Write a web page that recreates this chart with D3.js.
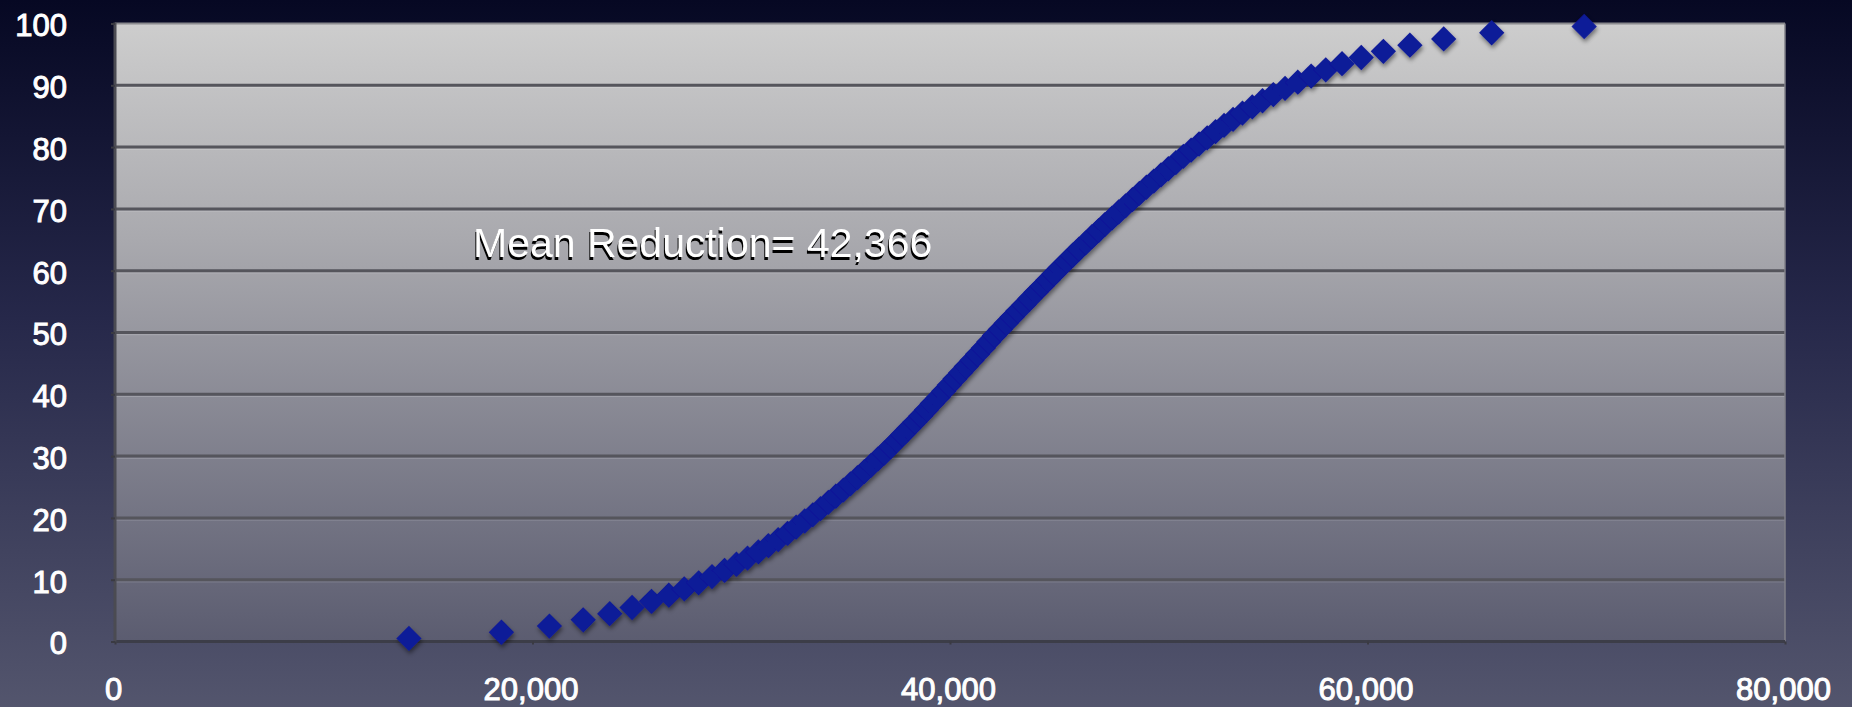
<!DOCTYPE html>
<html>
<head>
<meta charset="utf-8">
<script src="https://cdn.jsdelivr.net/npm/d3@7/dist/d3.min.js"></script>
<style>
  html, body { margin: 0; padding: 0; background: #1c1e38; }
  svg { display: block; }
  .tick-label { font-family: "Liberation Sans", Arial, Helvetica, sans-serif; fill: #ffffff; stroke: #ffffff; stroke-width: 1px; }
</style>
</head>
<body>
<svg id="chart" width="1852" height="707"></svg>
<script>
// Reduction values (x) for each cumulative percentile point (y)
const reductions = [
  14080, 18510, 20810, 22430, 23700, 24770, 25700, 26530, 27270, 27960,
  28600, 29200, 29770, 30300, 30820, 31300, 31770, 32220, 32630, 33040,
  33430, 33800, 34170, 34530, 34890, 35230, 35570, 35900, 36220, 36540,
  36860, 37160, 37450, 37740, 38030, 38320, 38600, 38880, 39150, 39430,
  39700, 39970, 40240, 40510, 40780, 41060, 41320, 41600, 41860, 42130,
  42410, 42690, 42980, 43260, 43550, 43830, 44120, 44410, 44700, 44990,
  45280, 45580, 45880, 46180, 46500, 46800, 47120, 47430, 47760, 48080,
  48410, 48740, 49070, 49410, 49760, 50110, 50460, 50820, 51180, 51550,
  51930, 52320, 52720, 53130, 53560, 54010, 54480, 54970, 55490, 56050,
  56660, 57300, 58000, 58780, 59700, 60760, 62030, 63650, 65950, 70380
];
const percentiles = [
  0.5, 1.5, 2.5, 3.5, 4.5, 5.5, 6.5, 7.5, 8.5, 9.5,
  10.5, 11.5, 12.5, 13.5, 14.5, 15.5, 16.5, 17.5, 18.5, 19.5,
  20.5, 21.5, 22.5, 23.5, 24.5, 25.5, 26.5, 27.5, 28.5, 29.5,
  30.5, 31.5, 32.5, 33.5, 34.5, 35.5, 36.5, 37.5, 38.5, 39.5,
  40.5, 41.5, 42.5, 43.5, 44.5, 45.5, 46.5, 47.5, 48.5, 49.5,
  50.5, 51.5, 52.5, 53.5, 54.5, 55.5, 56.5, 57.5, 58.5, 59.5,
  60.5, 61.5, 62.5, 63.5, 64.5, 65.5, 66.5, 67.5, 68.5, 69.5,
  70.5, 71.5, 72.5, 73.5, 74.5, 75.5, 76.5, 77.5, 78.5, 79.5,
  80.5, 81.5, 82.5, 83.5, 84.5, 85.5, 86.5, 87.5, 88.5, 89.5,
  90.5, 91.5, 92.5, 93.5, 94.5, 95.5, 96.5, 97.5, 98.5, 99.5
];
const xTicks = [0, 20000, 40000, 60000, 80000];
const yTicks = [0, 10, 20, 30, 40, 50, 60, 70, 80, 90, 100];
const meanLabel = "Mean Reduction= 42,366";

const W = 1852, H = 707;
const plot = { left: 115, right: 1785, top: 23.5, bottom: 641.5 };

const svg = d3.select("#chart");
const defs = svg.append("defs");

// page background
const bg = defs.append("linearGradient").attr("id", "bgGrad")
  .attr("x1", 0).attr("y1", 0).attr("x2", 0).attr("y2", 1);
bg.append("stop").attr("offset", "0%").attr("stop-color", "#060823");
bg.append("stop").attr("offset", "45%").attr("stop-color", "#26284a");
bg.append("stop").attr("offset", "100%").attr("stop-color", "#53556d");

// plot area fill
const pg = defs.append("linearGradient").attr("id", "plotGrad")
  .attr("x1", 0).attr("y1", 0).attr("x2", 0).attr("y2", 1);
pg.append("stop").attr("offset", "0%").attr("stop-color", "#cdcdcd");
pg.append("stop").attr("offset", "35%").attr("stop-color", "#a9a9ae");
pg.append("stop").attr("offset", "100%").attr("stop-color", "#5b5c70");

// soft shadow under the markers
const sh = defs.append("filter").attr("id", "markShadow")
  .attr("x", "-50%").attr("y", "-50%").attr("width", "200%").attr("height", "200%");
sh.append("feDropShadow").attr("dx", 1).attr("dy", 3).attr("stdDeviation", 2)
  .attr("flood-color", "#000").attr("flood-opacity", 0.45);

svg.append("rect").attr("width", W).attr("height", H).attr("fill", "url(#bgGrad)");

const x = d3.scaleLinear().domain([0, 80000]).range([plot.left, plot.right]);
const y = d3.scaleLinear().domain([0, 100]).range([plot.bottom, plot.top]);

svg.append("rect")
  .attr("x", plot.left).attr("y", plot.top)
  .attr("width", plot.right - plot.left).attr("height", plot.bottom - plot.top)
  .attr("fill", "url(#plotGrad)");

// horizontal gridlines with a faint highlight under each
const inner = yTicks.filter(v => v > 0 && v < 100);
const grid = svg.append("g");
grid.selectAll("line.hl").data(inner).join("line")
  .attr("class", "hl")
  .attr("x1", plot.left).attr("x2", plot.right)
  .attr("y1", d => y(d) + 2.2).attr("y2", d => y(d) + 2.2)
  .attr("stroke", "rgba(255,255,255,0.18)").attr("stroke-width", 1);
grid.selectAll("line.gl").data(inner).join("line")
  .attr("class", "gl")
  .attr("x1", plot.left).attr("x2", plot.right)
  .attr("y1", d => y(d)).attr("y2", d => y(d))
  .attr("stroke", "#55555c").attr("stroke-width", 3);

// frame
svg.append("line").attr("x1", plot.left).attr("x2", plot.right)
  .attr("y1", y(100)).attr("y2", y(100))
  .attr("stroke", "#8a8a8e").attr("stroke-width", 2);
svg.append("line").attr("x1", plot.right).attr("x2", plot.right)
  .attr("y1", y(100)).attr("y2", y(0))
  .attr("stroke", "#808088").attr("stroke-width", 1.5);
svg.append("line").attr("x1", plot.left).attr("x2", plot.right)
  .attr("y1", y(0)).attr("y2", y(0))
  .attr("stroke", "#3c3d48").attr("stroke-width", 3);
svg.append("line").attr("x1", plot.left).attr("x2", plot.left)
  .attr("y1", y(100) - 1).attr("y2", y(0) + 1.5)
  .attr("stroke", "#4b4b52").attr("stroke-width", 3);

// y axis labels
const yAxis = svg.append("g").attr("transform", `translate(${plot.left},0)`)
  .call(d3.axisLeft(y).tickValues(yTicks).tickSize(4).tickPadding(44).tickFormat(d3.format("d")));
yAxis.select(".domain").remove();
yAxis.selectAll(".tick line").attr("stroke", "#3a3a42").attr("stroke-width", 2);
yAxis.selectAll(".tick text").attr("class", "tick-label")
  .attr("font-size", 31).attr("dy", "0.4em");

// x axis labels
const xAxis = svg.append("g").attr("transform", `translate(0,${plot.bottom})`)
  .call(d3.axisBottom(x).tickValues(xTicks).tickSize(3).tickPadding(33).tickFormat(d3.format(",")));
xAxis.select(".domain").remove();
xAxis.selectAll(".tick line").attr("stroke", "#3a3a42").attr("stroke-width", 2);
xAxis.selectAll(".tick text").attr("class", "tick-label")
  .attr("font-size", 31).attr("dx", "-2");

// data markers (diamonds)
const points = reductions.map((r, i) => ({ r, p: percentiles[i] }));
const diamond = d3.symbol().type(d3.symbolSquare).size(320);
svg.append("g").attr("filter", "url(#markShadow)")
  .selectAll("path").data(points).join("path")
  .attr("d", diamond)
  .attr("transform", d => `translate(${x(d.r)},${y(d.p)}) rotate(45)`)
  .attr("fill", "#101a98");

// annotation with dark drop shadow
const ax = x(17150), ay = y(62.2);
const ann = svg.append("g")
  .attr("font-family", "'Liberation Sans', Arial, Helvetica, sans-serif")
  .attr("font-size", 41);
ann.append("text").attr("x", ax - 1).attr("y", ay + 3)
  .attr("fill", "#000").text(meanLabel);
ann.append("text").attr("x", ax).attr("y", ay)
  .attr("fill", "#ffffff").text(meanLabel);
</script>
</body>
</html>
